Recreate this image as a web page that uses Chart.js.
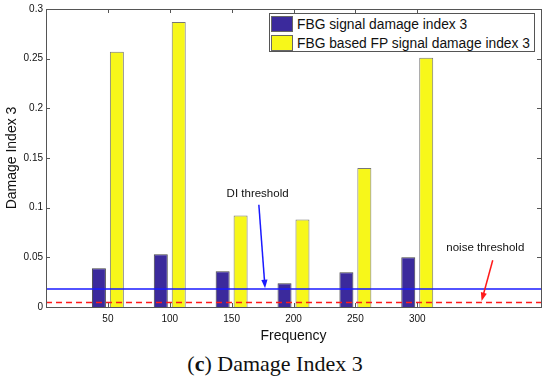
<!DOCTYPE html>
<html>
<head>
<meta charset="utf-8">
<script src="https://cdn.jsdelivr.net/npm/chart.js@4.4.1/dist/chart.umd.min.js"></script>
<style>
  body { margin: 0; background: #fff; }
  #wrap { position: relative; width: 550px; height: 380px; }
  #box { position: absolute; left: 0; top: 0; width: 550px; height: 350px; }
  #legend {
    position: absolute; left: 269px; top: 13px; width: 264px; height: 37px;
    border: 1px solid #555; background: #fff;
    font-family: "Liberation Sans", Arial, sans-serif; font-size: 13.8px; color: #111;
  }
  .row { display: flex; align-items: center; height: 18px; margin-top: 1px; white-space: nowrap; }
  .sw { width: 22px; height: 16px; margin-left: 1px; margin-right: 4px; box-sizing: border-box; border: 1px solid #666; }
  #caption {
    position: absolute; left: 0; top: 351px; width: 550px; text-align: center;
    font-family: "Liberation Serif", "Times New Roman", serif; font-size: 22px; color: #111;
  }
</style>
</head>
<body>
<div id="wrap">
  <div id="box"><canvas id="chart"></canvas></div>
  <div id="legend">
    <div class="row"><div class="sw" style="background:#3b2a9c"></div>FBG signal damage index 3</div>
    <div class="row"><div class="sw" style="background:#f7f71a"></div>FBG based FP signal damage index 3</div>
  </div>
  <div id="caption">(<b>c</b>) Damage Index 3</div>
</div>
<script>
// Data
const frequencies = [50, 100, 150, 200, 250, 300];
const fbgDamage = [0.039, 0.053, 0.036, 0.024, 0.035, 0.050];
const fpDamage = [0.257, 0.287, 0.092, 0.088, 0.140, 0.251];
const diThreshold = 0.018;
const noiseThreshold = 0.0045;
const yTicks = [0, 0.05, 0.1, 0.15, 0.2, 0.25, 0.3];

const axisColor = '#555';
const font = "'Liberation Sans', Arial, sans-serif";

// Box and inward ticks like MATLAB
const boxPlugin = {
  id: 'box',
  afterDraw(chart) {
    const { ctx, chartArea: a, scales } = chart;
    ctx.save();
    ctx.strokeStyle = axisColor;
    ctx.lineWidth = 1;
    ctx.strokeRect(a.left + 0.5, a.top + 0.5, a.right - a.left, a.bottom - a.top);
    ctx.beginPath();
    frequencies.forEach(f => {
      const x = Math.round(scales.x.getPixelForValue(f)) + 0.5;
      ctx.moveTo(x, a.bottom); ctx.lineTo(x, a.bottom - 4);
      ctx.moveTo(x, a.top); ctx.lineTo(x, a.top + 4);
    });
    yTicks.forEach(v => {
      const y = Math.round(scales.y.getPixelForValue(v)) + 0.5;
      ctx.moveTo(a.left, y); ctx.lineTo(a.left + 4, y);
      ctx.moveTo(a.right, y); ctx.lineTo(a.right - 4, y);
    });
    ctx.stroke();
    ctx.restore();
  }
};

// Text labels with arrows
function arrow(ctx, x1, y1, x2, y2, color) {
  const ang = Math.atan2(y2 - y1, x2 - x1);
  ctx.strokeStyle = color;
  ctx.fillStyle = color;
  ctx.lineWidth = 1.5;
  ctx.beginPath();
  ctx.moveTo(x1, y1);
  ctx.lineTo(x2 - 6 * Math.cos(ang), y2 - 6 * Math.sin(ang));
  ctx.stroke();
  ctx.beginPath();
  ctx.moveTo(x2, y2);
  ctx.lineTo(x2 - 9 * Math.cos(ang - 0.35), y2 - 9 * Math.sin(ang - 0.35));
  ctx.lineTo(x2 - 9 * Math.cos(ang + 0.35), y2 - 9 * Math.sin(ang + 0.35));
  ctx.closePath();
  ctx.fill();
}

const notePlugin = {
  id: 'notes',
  afterDatasetsDraw(chart) {
    const { ctx, scales: { x, y } } = chart;
    ctx.save();
    ctx.font = '11.5px ' + font;
    ctx.fillStyle = '#111';
    ctx.textAlign = 'center';
    ctx.textBaseline = 'middle';
    ctx.fillText('DI threshold', x.getPixelForValue(171), y.getPixelForValue(0.114));
    ctx.fillText('noise threshold', x.getPixelForValue(355), y.getPixelForValue(0.060));
    arrow(ctx, x.getPixelForValue(172), y.getPixelForValue(0.103),
      x.getPixelForValue(177), y.getPixelForValue(0.019), '#1a1aff');
    arrow(ctx, x.getPixelForValue(361), y.getPixelForValue(0.047),
      x.getPixelForValue(352), y.getPixelForValue(0.006), '#ff1a1a');
    ctx.restore();
  }
};

new Chart(document.getElementById('chart'), {
  type: 'bar',
  data: {
    datasets: [
      {
        label: 'FBG signal damage index 3',
        data: frequencies.map((f, i) => ({ x: f, y: fbgDamage[i] })),
        backgroundColor: '#3b2a9c',
        borderColor: '#444',
        borderWidth: 1,
        categoryPercentage: 0.58,
        barPercentage: 0.78,
        order: 2
      },
      {
        label: 'FBG based FP signal damage index 3',
        data: frequencies.map((f, i) => ({ x: f, y: fpDamage[i] })),
        backgroundColor: '#f7f71a',
        borderColor: '#777',
        borderWidth: 1,
        categoryPercentage: 0.58,
        barPercentage: 0.78,
        order: 2
      },
      {
        type: 'line',
        label: 'DI threshold',
        data: [{ x: 0, y: diThreshold }, { x: 400, y: diThreshold }],
        borderColor: '#1a1aff',
        borderWidth: 1.5,
        pointRadius: 0,
        order: 0
      },
      {
        type: 'line',
        label: 'noise threshold',
        data: [{ x: 0, y: noiseThreshold }, { x: 400, y: noiseThreshold }],
        borderColor: '#ff1a1a',
        borderWidth: 1.5,
        borderDash: [6, 4],
        pointRadius: 0,
        order: 0
      }
    ]
  },
  options: {
    responsive: true,
    maintainAspectRatio: false,
    animation: false,
    layout: { padding: { left: 0, right: 9, top: 8, bottom: 0 } },
    plugins: {
      legend: { display: false },
      tooltip: { enabled: false }
    },
    scales: {
      x: {
        type: 'linear',
        min: 0,
        max: 400,
        offset: false,
        grid: { display: false, tickLength: 0 },
        border: { display: false },
        afterBuildTicks: s => { s.ticks = frequencies.map(v => ({ value: v })); },
        afterFit: s => { s.height = 43; },
        ticks: { color: '#111', font: { family: font, size: 10 }, padding: 6, maxRotation: 0 },
        title: { display: true, text: 'Frequency', color: '#111', font: { family: font, size: 14 }, padding: { top: 0, bottom: 5 } }
      },
      y: {
        min: 0,
        max: 0.3,
        grid: { display: false, tickLength: 0 },
        border: { display: false },
        afterBuildTicks: s => { s.ticks = yTicks.map(v => ({ value: v })); },
        afterFit: s => { s.width = 46; },
        ticks: {
          color: '#111', font: { family: font, size: 10 }, padding: 3,
          callback: v => String(Number(v.toFixed(2)))
        },
        title: { display: true, text: 'Damage Index 3', color: '#111', font: { family: font, size: 14 }, padding: { top: 4, bottom: 0 } }
      }
    }
  },
  plugins: [boxPlugin, notePlugin]
});
</script>
</body>
</html>
